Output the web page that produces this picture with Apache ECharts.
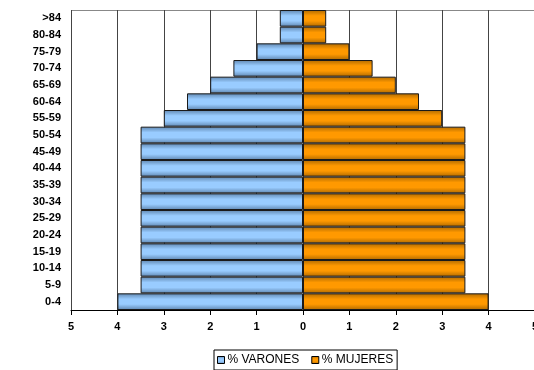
<!DOCTYPE html>
<html>
<head>
<meta charset="utf-8">
<script src="https://cdn.jsdelivr.net/npm/echarts@6/dist/echarts.min.js"></script>
<style>
  html, body { margin: 0; padding: 0; background: #fff; }
  #chart { width: 534px; height: 370px; }
</style>
</head>
<body>
<div id="chart"></div>
<script>
// grupos de edad (de abajo hacia arriba)
const ageGroups = ['0-4', '5-9', '10-14', '15-19', '20-24', '25-29', '30-34', '35-39',
  '40-44', '45-49', '50-54', '55-59', '60-64', '65-69', '70-74', '75-79', '80-84', '>84'];
const varones = [4, 3.5, 3.5, 3.5, 3.5, 3.5, 3.5, 3.5, 3.5, 3.5, 3.5, 3, 2.5, 2, 1.5, 1, 0.5, 0.5];
const mujeres = [4, 3.5, 3.5, 3.5, 3.5, 3.5, 3.5, 3.5, 3.5, 3.5, 3.5, 3, 2.5, 2, 1.5, 1, 0.5, 0.5];
const seriesNames = ['% VARONES', '% MUJERES'];

const chart = echarts.init(document.getElementById('chart'));

function barGrad(edge, mid) {
  return new echarts.graphic.LinearGradient(0, 0, 0, 1, [
    { offset: 0, color: edge },
    { offset: 0.35, color: mid },
    { offset: 0.65, color: mid },
    { offset: 1, color: edge }
  ]);
}

const font = 'Liberation Sans, Arial, sans-serif';

chart.setOption({
  animation: false,
  grid: { left: 71, right: -1, top: 10, bottom: 60, containLabel: false, outerBoundsMode: 'none' },
  legend: {
    top: 350,
    left: 214,
    data: seriesNames,
    icon: 'rect',
    itemWidth: 7,
    itemHeight: 7,
    itemGap: 12,
    padding: [4, 4, 4, 3],
    borderColor: '#000',
    borderWidth: 1,
    textStyle: { fontFamily: font, fontSize: 12, color: '#000', padding: [0, 0, 0, -2] },
    itemStyle: { borderColor: '#000', borderWidth: 1 }
  },
  xAxis: {
    type: 'value',
    min: -5,
    max: 5,
    interval: 1,
    axisLine: { show: true, lineStyle: { color: '#000' } },
    axisTick: { show: true, length: 5, lineStyle: { color: '#000' } },
    axisLabel: {
      margin: 11,
      fontFamily: font,
      fontSize: 11,
      fontWeight: 'bold',
      color: '#000',
      formatter: v => Math.abs(v)
    },
    splitLine: { show: true, lineStyle: { color: '#444', width: 1 } }
  },
  yAxis: {
    type: 'category',
    data: ageGroups,
    axisLine: { show: false },
    axisTick: { show: false },
    axisLabel: {
      margin: 10,
      fontFamily: font,
      fontSize: 11,
      fontWeight: 'bold',
      color: '#000'
    },
    splitLine: { show: false }
  },
  series: [
    {
      name: seriesNames[0],
      type: 'bar',
      data: varones.map(v => -v),
      barCategoryGap: 0,
      barGap: '-100%',
      itemStyle: { color: barGrad('#5f86b0', '#99ccff'), borderColor: '#1a1a1a', borderWidth: 1 }
    },
    {
      name: seriesNames[1],
      type: 'bar',
      data: mujeres,
      barCategoryGap: 0,
      barGap: '-100%',
      itemStyle: { color: barGrad('#b06a00', '#ff9900'), borderColor: '#1a1a1a', borderWidth: 1 }
    }
  ],
  graphic: [
    { type: 'line', shape: { x1: 71, y1: 10.5, x2: 534, y2: 10.5 }, style: { stroke: '#888', lineWidth: 1 } }
  ]
});
</script>
</body>
</html>
